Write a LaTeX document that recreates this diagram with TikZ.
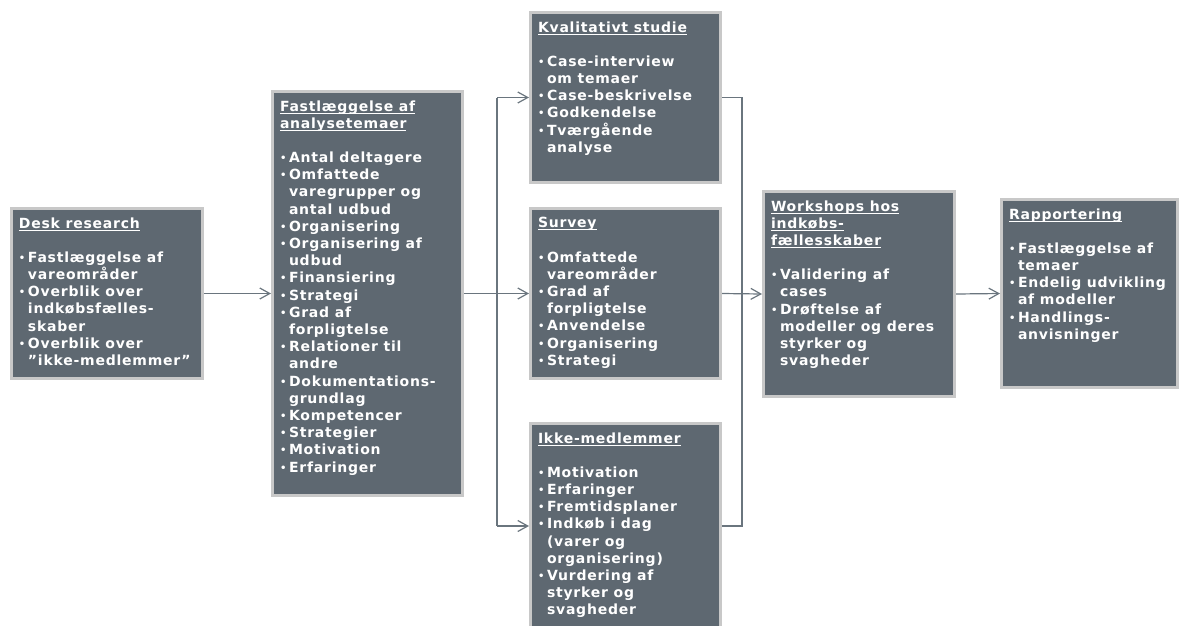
\documentclass[tikz,border=0pt]{standalone}
\usepackage{fontspec}
\setmainfont{DejaVu Sans}[LetterSpace=5.5]
\usepackage{xcolor}
\usetikzlibrary{arrows.meta,positioning}

\definecolor{slate}{HTML}{5E6871}
\definecolor{rim}{HTML}{C8C8C8}
\definecolor{wire}{HTML}{6A757E}

\newsavebox\hdbox
\newcommand{\hd}[1]{\leavevmode\sbox\hdbox{#1}\rlap{\rule[-2.5pt]{\wd\hdbox}{0.9pt}}\usebox\hdbox}
\newcommand{\ttl}[1]{#1\par\vspace{17pt}}
\newcommand{\nl}{\hfil\break}
\newcommand{\itm}[1]{\par\hangindent=9pt\hangafter=1\noindent
  \hbox to 9pt{\raisebox{1pt}{\fontsize{10pt}{10pt}\selectfont\textbullet}\hss}#1}
\newcommand{\stagebox}[3]{\parbox[c][#2][t]{#1}{\raggedright
  \hyphenpenalty=10000\exhyphenpenalty=10000\parindent=0pt #3}}

\begin{document}
\begin{tikzpicture}[
  x=1pt, y=-1pt,
  stage/.style={
    rectangle, draw=rim, line width=3pt, fill=slate,
    text=white, anchor=north west,
    inner xsep=7.5pt, inner ysep=9pt,
    font=\fontsize{14pt}{17.2pt}\selectfont\bfseries
  },
  wireline/.style={draw=wire, line width=1.2pt},
  flow/.style={wireline, -{Straight Barb[length=10pt,width=11pt]}}
]
\clip (0,0) rectangle (1181,625);

\node[stage] (desk) at (10,207) {\stagebox{176pt}{152pt}{%
  \ttl{\hd{Desk research}}
  \itm{Fastlæggelse af\nl vareområder}
  \itm{Overblik over\nl indkøbsfælles-\nl skaber}
  \itm{Overblik over\nl ”ikke-medlemmer”}}};

\node[stage] (fast) at (271,90) {\stagebox{175pt}{386pt}{%
  \ttl{\hd{Fastlæggelse af}\\\hd{analysetemaer}}
  \itm{Antal deltagere}
  \itm{Omfattede\nl varegrupper og\nl antal udbud}
  \itm{Organisering}
  \itm{Organisering af\nl udbud}
  \itm{Finansiering}
  \itm{Strategi}
  \itm{Grad af\nl forpligtelse}
  \itm{Relationer til\nl andre}
  \itm{Dokumentations-\nl grundlag}
  \itm{Kompetencer}
  \itm{Strategier}
  \itm{Motivation}
  \itm{Erfaringer}}};

\node[stage] (kval) at (529,11) {\stagebox{175pt}{152pt}{%
  \ttl{\hd{Kvalitativt studie}}
  \itm{Case-interview\nl om temaer}
  \itm{Case-beskrivelse}
  \itm{Godkendelse}
  \itm{Tværgående\nl analyse}}};

\node[stage] (survey) at (529,207) {\stagebox{175pt}{152pt}{%
  \ttl{\hd{Survey}}
  \itm{Omfattede\nl vareområder}
  \itm{Grad af\nl forpligtelse}
  \itm{Anvendelse}
  \itm{Organisering}
  \itm{Strategi}}};

\node[stage] (ikke) at (529,422) {\stagebox{175pt}{187pt}{%
  \ttl{\hd{Ikke-medlemmer}}
  \itm{Motivation}
  \itm{Erfaringer}
  \itm{Fremtidsplaner}
  \itm{Indkøb i dag\nl (varer og\nl organisering)}
  \itm{Vurdering af\nl styrker og\nl svagheder}}};

\node[stage] (work) at (762,190) {\stagebox{176pt}{187pt}{%
  \ttl{\hd{Workshops hos}\\\hd{indkøbs-}\\\hd{fællesskaber}}
  \itm{Validering af\nl cases}
  \itm{Drøftelse af\nl modeller og deres\nl styrker og\nl svagheder}}};

\node[stage] (rapp) at (1000,198) {\stagebox{161pt}{170pt}{%
  \ttl{\hd{Rapportering}}
  \itm{Fastlæggelse af\nl temaer}
  \itm{Endelig udvikling\nl af modeller}
  \itm{Handlings-\nl anvisninger}}};

% fork and join of the three studies
\coordinate (fork) at (497,293.5);
\coordinate (join) at (742,293.5);

\draw[flow] (desk.east) -- (fast.west);
\draw[flow] (fast.east) -- (survey.west);
\draw[wireline] (fork |- kval.west) -- (fork |- ikke.west);
\draw[flow] (fork |- kval.west) -- (kval.west);
\draw[flow] (fork |- ikke.west) -- (ikke.west);
\draw[wireline] (kval.east) -| (join) |- (ikke.east);
\draw[flow] (survey.east) -- (work.west);
\draw[flow] (work.east) -- (rapp.west);
\end{tikzpicture}
\end{document}
